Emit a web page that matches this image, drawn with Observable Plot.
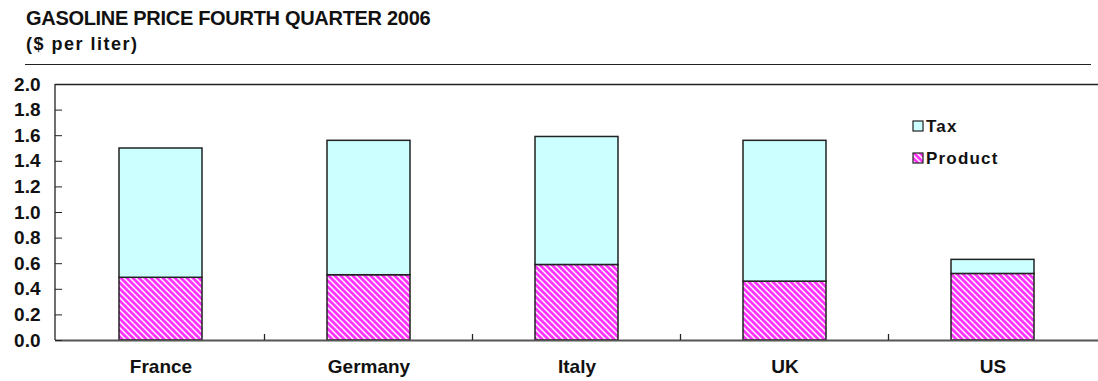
<!DOCTYPE html>
<html>
<head>
<meta charset="utf-8">
<script src="https://cdn.jsdelivr.net/npm/d3@7"></script>
<script src="https://cdn.jsdelivr.net/npm/@observablehq/plot@0.6"></script>
<style>
  body { margin: 0; background: #fff; font-family: "Liberation Sans", Arial, sans-serif; }
  #head { position: relative; height: 64px; margin-left: 25px; width: 1066px; border-bottom: 1.5px solid #222; }
  #head .t { position: absolute; left: 1px; font-weight: bold; color: #111; white-space: nowrap; line-height: 1; }
  #title { top: 8px; font-size: 20px; letter-spacing: -0.3px; }
  #sub { top: 35px; font-size: 18px; letter-spacing: 1.5px; left: -2px; }
  #chart { margin-top: 5px; }
</style>
</head>
<body>
<div id="head">
  <div class="t" id="title">GASOLINE PRICE FOURTH QUARTER 2006</div>
  <div class="t" id="sub">($ per liter)</div>
</div>
<div id="chart"></div>
<script>
// Gasoline price components, Q4 2006, US$ per liter
const countries = ["France", "Germany", "Italy", "UK", "US"];
const product = [0.49, 0.51, 0.59, 0.46, 0.52];
const tax = [1.01, 1.05, 1.00, 1.10, 0.11];
const components = ["Product", "Tax"];
const yTicks = [0, 0.2, 0.4, 0.6, 0.8, 1.0, 1.2, 1.4, 1.6, 1.8, 2.0];

// Long table: product stacked first (bottom), tax on top
const rows = countries.flatMap((c, i) => [
  {country: c, component: "Product", value: product[i]},
  {country: c, component: "Tax", value: tax[i]}
]);

const font = `"Liberation Sans", Arial, sans-serif`;

// Magenta/white diagonal hatch used for the product share
function hatchDefs() {
  const defs = d3.create("svg:defs");
  const p = defs.append("pattern")
    .attr("id", "hatch").attr("patternUnits", "userSpaceOnUse")
    .attr("width", 6).attr("height", 6);
  p.append("rect").attr("width", 6).attr("height", 6).attr("fill", "#ff33ff");
  p.append("path")
    .attr("d", "M-1,-1L7,7M-4,2L2,8M2,-4L8,2")
    .attr("stroke", "#fff").attr("stroke-width", 1.4);
  return defs.node();
}

// Left axis line plus small upward ticks on the baseline between categories
function separators(index, scales, values, dims) {
  const x = scales.x;
  const bw = typeof x.bandwidth === "function" ? x.bandwidth() : scales.scales.x.bandwidth;
  const y0 = dims.height - dims.marginBottom;
  const g = d3.create("svg:g").attr("stroke", "#222").attr("stroke-width", 1.3);
  g.append("line").attr("x1", dims.marginLeft).attr("x2", dims.marginLeft)
    .attr("y1", dims.marginTop).attr("y2", y0);
  for (let i = 0; i < countries.length - 1; i++) {
    const sx = (x(countries[i]) + bw + x(countries[i + 1])) / 2;
    g.append("line").attr("x1", sx).attr("x2", sx).attr("y1", y0).attr("y2", y0 - 6);
  }
  return g.node();
}

// Legend inside the plot area, upper right
function legend(index, scales, values, dims) {
  const x0 = dims.width - dims.marginRight - 185;
  const g = d3.create("svg:g")
    .attr("font-family", font).attr("font-weight", "bold").attr("font-size", 17)
    .attr("text-anchor", "start");
  [["Tax", "#ccffff", 0], ["Product", "url(#hatch)", 32]].forEach(([name, fill, dy]) => {
    const y = dims.marginTop + 42 + dy;
    g.append("rect").attr("x", x0).attr("y", y - 5).attr("width", 10).attr("height", 10)
      .attr("fill", fill).attr("stroke", "#222").attr("stroke-width", 1.2);
    g.append("text").attr("x", x0 + 13).attr("y", y).attr("dy", "0.35em")
      .attr("letter-spacing", "1.2px").attr("fill", "#111").text(name);
  });
  return g.node();
}

const chart = Plot.plot({
  width: 1098,
  height: 311,
  marginLeft: 55,
  marginRight: 0,
  marginTop: 14,
  marginBottom: 41,
  style: {fontFamily: font, background: "#fff", color: "#111"},
  x: {domain: countries, paddingInner: 0.6, paddingOuter: 0.3, label: null},
  y: {domain: [0, 2], label: null},
  color: {domain: components, range: ["url(#hatch)", "#ccffff"]},
  marks: [
    hatchDefs,
    Plot.barY(rows, {x: "country", y: "value", fill: "component", stroke: "#222", strokeWidth: 1.5}),
    Plot.ruleY([2], {stroke: "#222", strokeWidth: 1.3}),
    Plot.ruleY([0], {stroke: "#555", strokeWidth: 2}),
    Plot.axisY(yTicks, {tickFormat: d => d.toFixed(1), tickSize: -7, tickPadding: 22,
      fontSize: 19, fontWeight: "bold", label: null, stroke: "#222"}),
    Plot.axisX({tickSize: 0, tickPadding: 19, fontSize: 19, fontWeight: "bold", label: null,
      style: {letterSpacing: "0.6px"}}),
    separators,
    legend
  ]
});
document.getElementById("chart").append(chart);
</script>
</body>
</html>
